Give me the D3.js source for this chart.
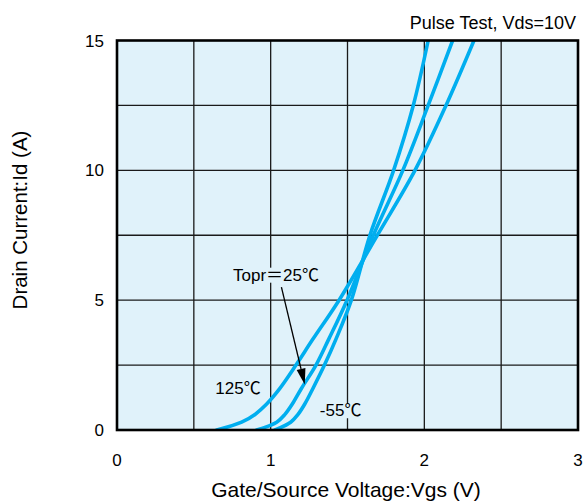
<!DOCTYPE html>
<html><head><meta charset="utf-8">
<script src="https://cdn.jsdelivr.net/npm/d3@7"></script>
<style>
html,body{margin:0;padding:0;background:#fff;}
svg{display:block;}
text{font-family:"Liberation Sans",Arial,"Noto Sans CJK JP",sans-serif;fill:#000;}
</style></head>
<body>
<svg id="chart" width="583" height="503"></svg>
<script>
// ---- data ----
const idLevels = [0, 0.3, 0.6, 1.0, 1.6, 2.5, 3.5, 5, 7.5, 10, 12.5, 15];
const vgs125 = [0.649, 0.811, 0.898, 0.974, 1.06, 1.165, 1.275, 1.445, 1.694, 1.939, 2.141, 2.323];
const vgs25  = [0.909, 1.039, 1.093, 1.141, 1.20, 1.295, 1.378, 1.497, 1.668, 1.860, 2.025, 2.184];
const vgsM55 = [1.028, 1.13, 1.178, 1.222, 1.275, 1.350, 1.425, 1.525, 1.646, 1.800, 1.928, 2.025];
const xTicks = [0, 1, 2, 3];
const yTicks = [0, 5, 10, 15];
const xGrid = [0.5, 1, 1.5, 2, 2.5];
const yGrid = [2.5, 5, 7.5, 10, 12.5];
const seriesLabels = ["125℃", "Topr＝25℃", "-55℃"];
const xTitle = "Gate/Source Voltage:Vgs (V)";
const yTitle = "Drain Current:Id (A)";
const noteText = "Pulse Test, Vds=10V";

// ---- chart ----
const svg = d3.select("#chart");
const x = d3.scaleLinear().domain([0, 3]).range([117, 578]);
const y = d3.scaleLinear().domain([0, 15]).range([430, 40.5]);
const bg = "#e0f2fa", lineCol = "#00aeef";

svg.append("defs").append("clipPath").attr("id", "clip")
  .append("rect").attr("x", x(0)).attr("y", y(15)).attr("width", x(3) - x(0)).attr("height", y(0) - y(15));

svg.append("rect").attr("x", x(0)).attr("y", y(15)).attr("width", x(3) - x(0)).attr("height", y(0) - y(15))
  .attr("fill", bg);

const grid = svg.append("g").attr("stroke", "#1a1a1a").attr("stroke-width", 1.3);
grid.selectAll(".gx").data(xGrid).join("line")
  .attr("x1", d => x(d)).attr("x2", d => x(d)).attr("y1", y(0)).attr("y2", y(15));
grid.selectAll(".gy").data(yGrid).join("line")
  .attr("y1", d => y(d)).attr("y2", d => y(d)).attr("x1", x(0)).attr("x2", x(3));

// annotation labels (with background boxes hiding grid)
const ann = svg.append("g");
function label(txt, vx, iy, size) {
  const g = ann.append("g");
  const r = g.append("rect").attr("fill", bg);
  const t = g.append("text").attr("x", x(vx)).attr("y", y(iy)).attr("font-size", size).text(txt);
  const b = t.node().getBBox();
  r.attr("x", b.x - 1).attr("y", b.y + 2).attr("width", b.width + 2).attr("height", b.height - 4);
  return t;
}
label(seriesLabels[0], 0.64, 1.37, 17);
label(seriesLabels[1], 0.755, 5.75, 17);
label(seriesLabels[2], 1.32, 0.53, 17);

// curves
const line = d3.line().x(d => x(d[0])).y(d => y(d[1])).curve(d3.curveCatmullRom.alpha(0.5));
const curves = svg.append("g").attr("clip-path", "url(#clip)");
[vgs125, vgs25, vgsM55].forEach(v => {
  curves.append("path").datum(idLevels.map((iv, i) => [v[i], iv]))
    .attr("d", line).attr("fill", "none").attr("stroke", lineCol)
    .attr("stroke-width", 3.6).attr("stroke-linecap", "round").attr("stroke-linejoin", "round");
});

// arrow
const ax1 = x(1.07), ay1 = y(5.5), ax2 = x(1.222), ay2 = y(1.75);
const ang = Math.atan2(ay2 - ay1, ax2 - ax1);
const hl = 16, hw = 4.5;
const bx = ax2 - hl * Math.cos(ang), by = ay2 - hl * Math.sin(ang);
svg.append("line").attr("x1", ax1).attr("y1", ay1).attr("x2", bx).attr("y2", by)
  .attr("stroke", "#000").attr("stroke-width", 1.3);
svg.append("path").attr("fill", "#000").attr("d",
  `M${ax2},${ay2}L${bx + hw * Math.sin(ang)},${by - hw * Math.cos(ang)}L${bx - hw * Math.sin(ang)},${by + hw * Math.cos(ang)}Z`);

// frame
svg.append("rect").attr("x", x(0)).attr("y", y(15)).attr("width", x(3) - x(0)).attr("height", y(0) - y(15))
  .attr("fill", "none").attr("stroke", "#000").attr("stroke-width", 2.6);

// ticks
svg.append("g").selectAll("text").data(xTicks).join("text")
  .attr("x", d => x(d)).attr("y", 466).attr("text-anchor", "middle").attr("font-size", 17).text(d => d);
svg.append("g").selectAll("text").data(yTicks).join("text")
  .attr("x", 104).attr("y", d => y(d) + 6).attr("text-anchor", "end").attr("font-size", 17).text(d => d);

// titles
svg.append("text").attr("x", 346).attr("y", 497).attr("text-anchor", "middle").attr("font-size", 21).text(xTitle);
svg.append("text").attr("transform", "translate(27,220) rotate(-90)").attr("text-anchor", "middle")
  .attr("font-size", 20.5).text(yTitle);
svg.append("text").attr("x", 576).attr("y", 29).attr("text-anchor", "end").attr("font-size", 18).text(noteText);
</script>
</body></html>
